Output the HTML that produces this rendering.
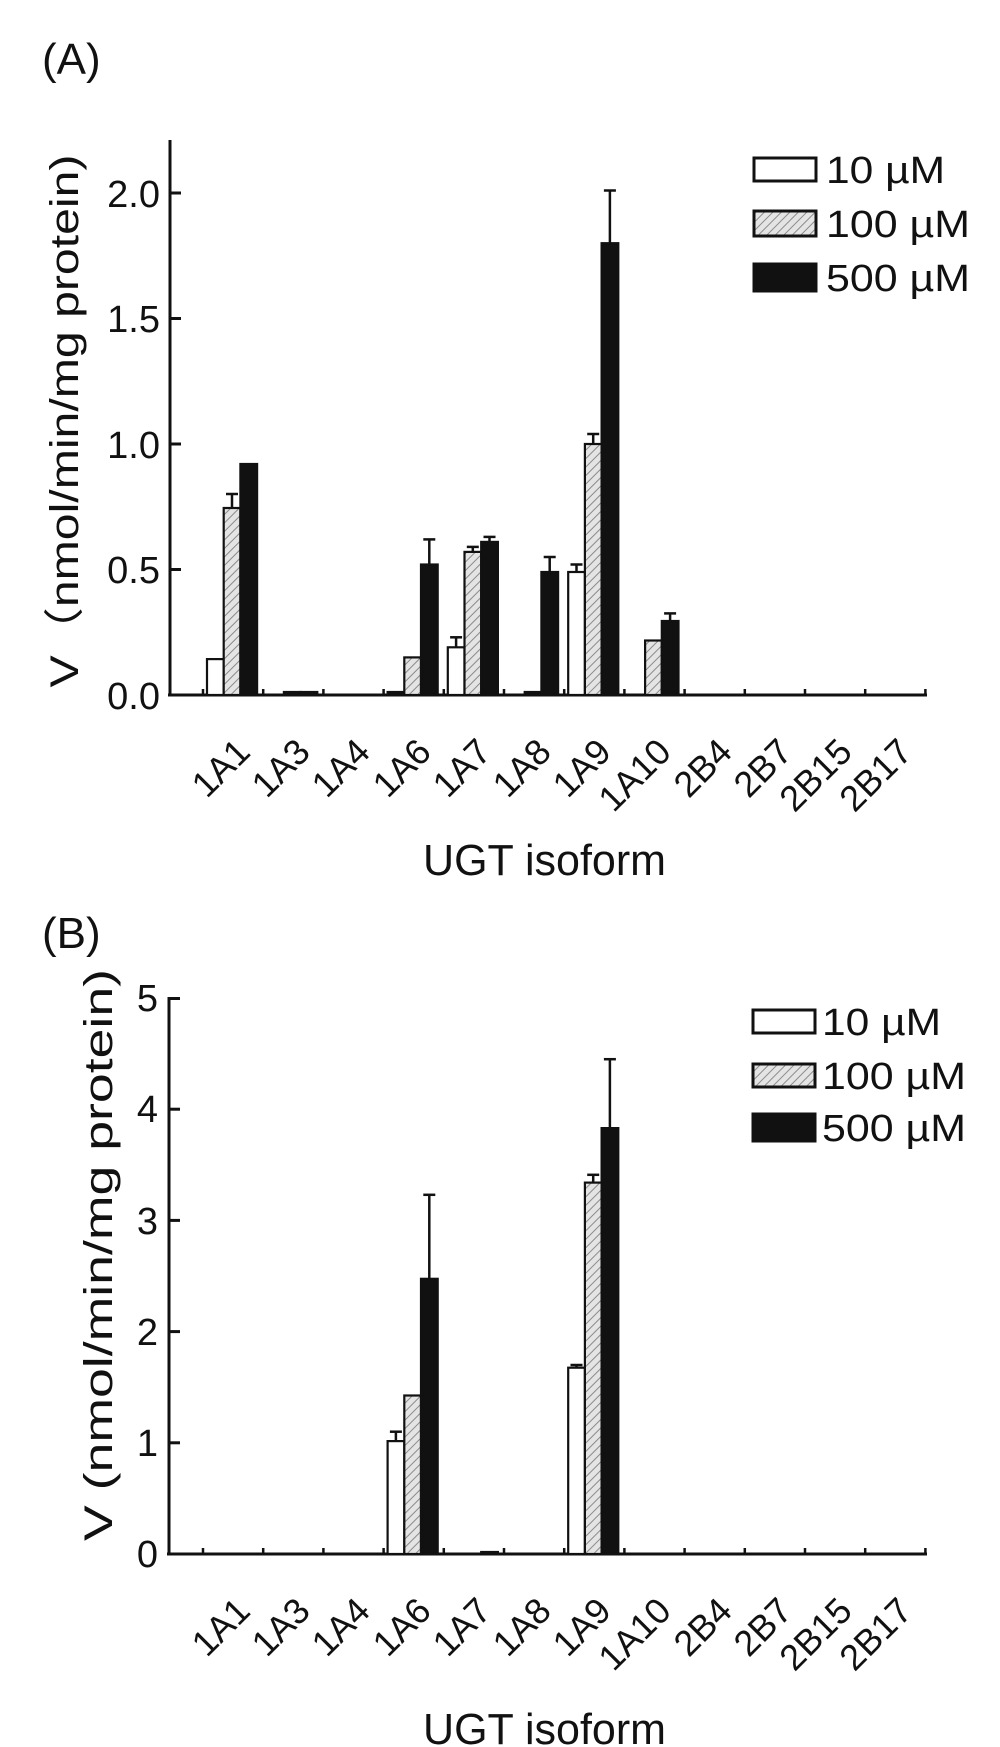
<!DOCTYPE html>
<html><head><meta charset="utf-8"><style>
html,body{margin:0;padding:0;background:#fff;}
svg{display:block;}
text{font-family:"Liberation Sans",Arial,sans-serif;fill:#111;}
</style></head><body>
<svg width="1000" height="1747" viewBox="0 0 1000 1747" xmlns="http://www.w3.org/2000/svg">
<defs>
<pattern id="h" width="6" height="6" patternUnits="userSpaceOnUse" patternTransform="rotate(45)">
<rect width="6" height="6" fill="#e4e4e4"/><line x1="0" y1="0" x2="0" y2="6" stroke="#8a8a8a" stroke-width="2"/>
</pattern>
</defs>

<!-- ================= CHART A ================= -->
<text x="42" y="74" font-size="44">(A)</text>
<text transform="translate(78,421) rotate(-90)" text-anchor="middle" font-size="40" textLength="533" lengthAdjust="spacingAndGlyphs">V（nmol/min/mg protein)</text>

<g font-size="38" text-anchor="end">
<text x="160" y="709">0.0</text>
<text x="160" y="583">0.5</text>
<text x="160" y="458">1.0</text>
<text x="160" y="332">1.5</text>
<text x="160" y="207">2.0</text>
</g>
<g stroke="#111" stroke-width="3">
<line x1="170" y1="140" x2="170" y2="696"/>
<line x1="168" y1="695" x2="927" y2="695"/>
<line x1="170" y1="569.5" x2="181" y2="569.5"/>
<line x1="170" y1="444" x2="181" y2="444"/>
<line x1="170" y1="318.5" x2="181" y2="318.5"/>
<line x1="170" y1="193" x2="181" y2="193"/>
</g>
<g stroke="#111" stroke-width="2.5">
<line x1="203" y1="695" x2="203" y2="689"/><line x1="263.2" y1="695" x2="263.2" y2="689"/><line x1="323.4" y1="695" x2="323.4" y2="689"/><line x1="383.6" y1="695" x2="383.6" y2="689"/><line x1="443.8" y1="695" x2="443.8" y2="689"/><line x1="504" y1="695" x2="504" y2="689"/><line x1="564.2" y1="695" x2="564.2" y2="689"/><line x1="624.4" y1="695" x2="624.4" y2="689"/><line x1="684.6" y1="695" x2="684.6" y2="689"/><line x1="744.8" y1="695" x2="744.8" y2="689"/><line x1="805" y1="695" x2="805" y2="689"/><line x1="865.2" y1="695" x2="865.2" y2="689"/><line x1="925.4" y1="695" x2="925.4" y2="689"/>
</g>
<g stroke="#111" stroke-width="2.2">
<rect x="207" y="659.1" width="16.7" height="35.9" fill="#fff"/>
<rect x="223.7" y="508" width="16.7" height="187" fill="url(#h)"/>
<rect x="240.4" y="464" width="16.7" height="231" fill="#111"/>
<rect x="283.9" y="692" width="16.7" height="3" fill="#111"/>
<rect x="300.6" y="692" width="16.7" height="3" fill="#111"/>
<rect x="387.6" y="692" width="16.7" height="3" fill="#111"/>
<rect x="404.3" y="657.4" width="16.7" height="37.6" fill="url(#h)"/>
<rect x="421" y="564.5" width="16.7" height="130.5" fill="#111"/>
<rect x="447.8" y="647.3" width="16.7" height="47.7" fill="#fff"/>
<rect x="464.5" y="551.9" width="16.7" height="143.1" fill="url(#h)"/>
<rect x="481.2" y="541.9" width="16.7" height="153.1" fill="#111"/>
<rect x="524.7" y="692" width="16.7" height="3" fill="#111"/>
<rect x="541.4" y="572" width="16.7" height="123" fill="#111"/>
<rect x="568.2" y="572" width="16.7" height="123" fill="#fff"/>
<rect x="584.9" y="444" width="16.7" height="251" fill="url(#h)"/>
<rect x="601.6" y="243.2" width="16.7" height="451.8" fill="#111"/>
<rect x="645.1" y="640.5" width="16.7" height="54.5" fill="url(#h)"/>
<rect x="661.8" y="621" width="16.7" height="74" fill="#111"/>
</g>
<g stroke="#111" stroke-width="2.5">
<line x1="232" y1="508" x2="232" y2="494"/><line x1="226" y1="494" x2="238" y2="494"/>
<line x1="429.3" y1="564.5" x2="429.3" y2="539.4"/><line x1="423.3" y1="539.4" x2="435.3" y2="539.4"/>
<line x1="456.1" y1="647.3" x2="456.1" y2="637.3"/><line x1="450.1" y1="637.3" x2="462.1" y2="637.3"/>
<line x1="472.8" y1="551.9" x2="472.8" y2="546.9"/><line x1="466.8" y1="546.9" x2="478.8" y2="546.9"/>
<line x1="489.5" y1="541.9" x2="489.5" y2="536.9"/><line x1="483.5" y1="536.9" x2="495.5" y2="536.9"/>
<line x1="549.7" y1="572" x2="549.7" y2="557"/><line x1="543.7" y1="557" x2="555.7" y2="557"/>
<line x1="576.5" y1="572" x2="576.5" y2="564.5"/><line x1="570.5" y1="564.5" x2="582.5" y2="564.5"/>
<line x1="593.2" y1="444" x2="593.2" y2="434"/><line x1="587.2" y1="434" x2="599.2" y2="434"/>
<line x1="609.9" y1="243.2" x2="609.9" y2="190.5"/><line x1="603.9" y1="190.5" x2="615.9" y2="190.5"/>
<line x1="670.1" y1="621" x2="670.1" y2="613.4"/><line x1="664.1" y1="613.4" x2="676.1" y2="613.4"/>
</g>
<g font-size="36" text-anchor="end">
<text transform="translate(252,754) rotate(-45)">1A1</text>
<text transform="translate(312,754) rotate(-45)">1A3</text>
<text transform="translate(372,754) rotate(-45)">1A4</text>
<text transform="translate(433,754) rotate(-45)">1A6</text>
<text transform="translate(493,754) rotate(-45)">1A7</text>
<text transform="translate(553,754) rotate(-45)">1A8</text>
<text transform="translate(613,754) rotate(-45)">1A9</text>
<text transform="translate(673,754) rotate(-45)">1A10</text>
<text transform="translate(734,754) rotate(-45)">2B4</text>
<text transform="translate(794,754) rotate(-45)">2B7</text>
<text transform="translate(854,754) rotate(-45)">2B15</text>
<text transform="translate(914,754) rotate(-45)">2B17</text>
</g>
<text x="423" y="875" font-size="44" textLength="243" lengthAdjust="spacingAndGlyphs">UGT isoform</text>
<g stroke="#111" stroke-width="3">
<rect x="754" y="158" width="62" height="23" fill="#fff"/>
<rect x="754" y="211" width="62" height="25" fill="url(#h)"/>
<rect x="754" y="264" width="62" height="27" fill="#111"/>
</g>
<g font-size="38">
<text x="826" y="183" textLength="119" lengthAdjust="spacingAndGlyphs">10 µM</text>
<text x="826" y="237" textLength="144" lengthAdjust="spacingAndGlyphs">100 µM</text>
<text x="826" y="291" textLength="144" lengthAdjust="spacingAndGlyphs">500 µM</text>
</g>

<!-- ================= CHART B ================= -->
<text x="42" y="948" font-size="44">(B)</text>
<text transform="translate(112,1255) rotate(-90)" text-anchor="middle" font-size="40" textLength="572" lengthAdjust="spacingAndGlyphs">V (nmol/min/mg protein)</text>

<g font-size="38" text-anchor="end">
<text x="158" y="1567">0</text>
<text x="158" y="1456">1</text>
<text x="158" y="1345">2</text>
<text x="158" y="1234">3</text>
<text x="158" y="1122">4</text>
<text x="158" y="1011">5</text>
</g>
<g stroke="#111" stroke-width="3">
<line x1="169" y1="997" x2="169" y2="1555"/>
<line x1="167" y1="1554" x2="927" y2="1554"/>
<line x1="169" y1="1442.8" x2="180" y2="1442.8"/>
<line x1="169" y1="1331.6" x2="180" y2="1331.6"/>
<line x1="169" y1="1220.4" x2="180" y2="1220.4"/>
<line x1="169" y1="1109.2" x2="180" y2="1109.2"/>
<line x1="169" y1="998.5" x2="180" y2="998.5"/>
</g>
<g stroke="#111" stroke-width="2.5">
<line x1="203" y1="1554" x2="203" y2="1548"/><line x1="263.2" y1="1554" x2="263.2" y2="1548"/><line x1="323.4" y1="1554" x2="323.4" y2="1548"/><line x1="383.6" y1="1554" x2="383.6" y2="1548"/><line x1="443.8" y1="1554" x2="443.8" y2="1548"/><line x1="504" y1="1554" x2="504" y2="1548"/><line x1="564.2" y1="1554" x2="564.2" y2="1548"/><line x1="624.4" y1="1554" x2="624.4" y2="1548"/><line x1="684.6" y1="1554" x2="684.6" y2="1548"/><line x1="744.8" y1="1554" x2="744.8" y2="1548"/><line x1="805" y1="1554" x2="805" y2="1548"/><line x1="865.2" y1="1554" x2="865.2" y2="1548"/><line x1="925.4" y1="1554" x2="925.4" y2="1548"/>
</g>
<g stroke="#111" stroke-width="2.2">
<rect x="387.6" y="1441.1" width="16.7" height="112.9" fill="#fff"/>
<rect x="404.3" y="1395.5" width="16.7" height="158.5" fill="url(#h)"/>
<rect x="421" y="1278.8" width="16.7" height="275.2" fill="#111"/>
<rect x="481.2" y="1552" width="16.7" height="2" fill="#111"/>
<rect x="568.2" y="1367.7" width="16.7" height="186.3" fill="#fff"/>
<rect x="584.9" y="1182.6" width="16.7" height="371.4" fill="url(#h)"/>
<rect x="601.6" y="1128.1" width="16.7" height="425.9" fill="#111"/>
</g>
<g stroke="#111" stroke-width="2.5">
<line x1="395.9" y1="1441.1" x2="395.9" y2="1431.7"/><line x1="389.9" y1="1431.7" x2="401.9" y2="1431.7"/>
<line x1="429.3" y1="1278.8" x2="429.3" y2="1194.8"/><line x1="423.3" y1="1194.8" x2="435.3" y2="1194.8"/>
<line x1="576.5" y1="1367.7" x2="576.5" y2="1365"/><line x1="570.5" y1="1365" x2="582.5" y2="1365"/>
<line x1="593.2" y1="1182.6" x2="593.2" y2="1174.8"/><line x1="587.2" y1="1174.8" x2="599.2" y2="1174.8"/>
<line x1="609.9" y1="1128.1" x2="609.9" y2="1059.2"/><line x1="603.9" y1="1059.2" x2="615.9" y2="1059.2"/>
</g>
<g font-size="36" text-anchor="end">
<text transform="translate(252,1613) rotate(-45)">1A1</text>
<text transform="translate(312,1613) rotate(-45)">1A3</text>
<text transform="translate(372,1613) rotate(-45)">1A4</text>
<text transform="translate(433,1613) rotate(-45)">1A6</text>
<text transform="translate(493,1613) rotate(-45)">1A7</text>
<text transform="translate(553,1613) rotate(-45)">1A8</text>
<text transform="translate(613,1613) rotate(-45)">1A9</text>
<text transform="translate(673,1613) rotate(-45)">1A10</text>
<text transform="translate(734,1613) rotate(-45)">2B4</text>
<text transform="translate(794,1613) rotate(-45)">2B7</text>
<text transform="translate(854,1613) rotate(-45)">2B15</text>
<text transform="translate(914,1613) rotate(-45)">2B17</text>
</g>
<text x="423" y="1744" font-size="44" textLength="243" lengthAdjust="spacingAndGlyphs">UGT isoform</text>
<g stroke="#111" stroke-width="3">
<rect x="753" y="1010" width="62" height="23" fill="#fff"/>
<rect x="753" y="1064" width="62" height="23" fill="url(#h)"/>
<rect x="753" y="1114" width="62" height="27" fill="#111"/>
</g>
<g font-size="38">
<text x="822" y="1035" textLength="119" lengthAdjust="spacingAndGlyphs">10 µM</text>
<text x="822" y="1089" textLength="144" lengthAdjust="spacingAndGlyphs">100 µM</text>
<text x="822" y="1141" textLength="144" lengthAdjust="spacingAndGlyphs">500 µM</text>
</g>
</svg>
</body></html>
